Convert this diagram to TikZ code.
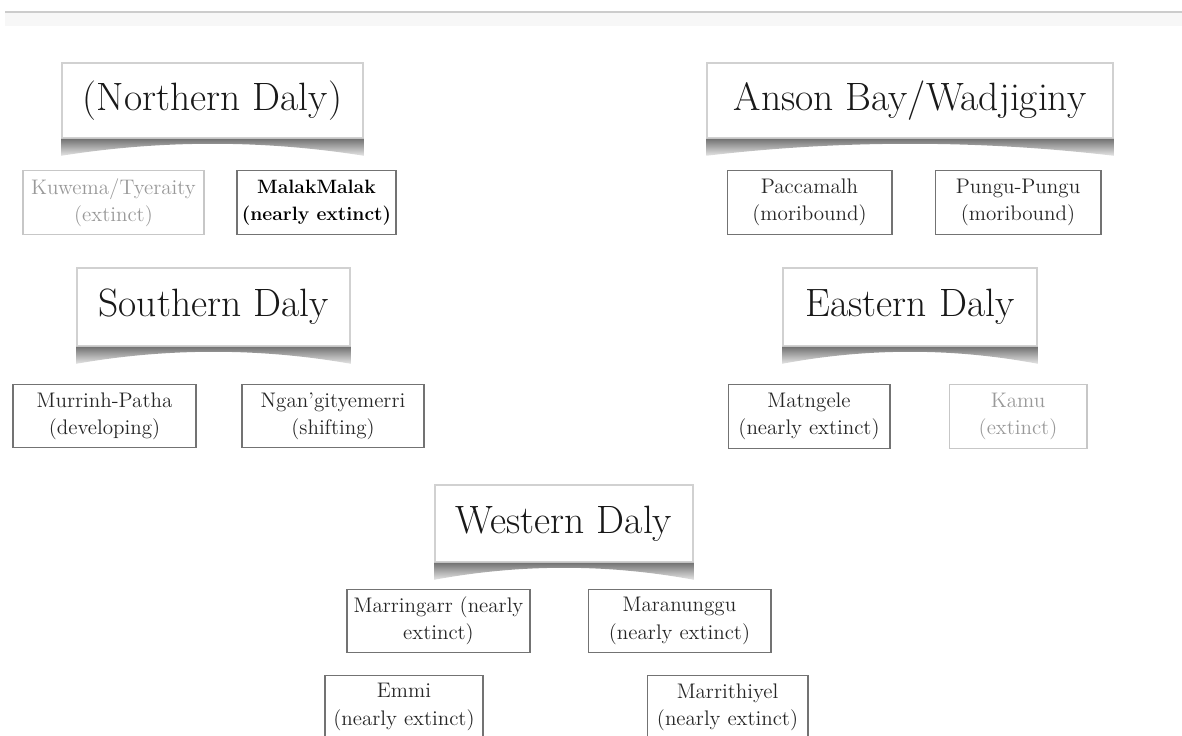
\documentclass[tikz,border=0pt]{standalone}
\usetikzlibrary{calc}

\begin{document}
\begin{tikzpicture}[x=0.02cm,y=-0.02cm,
  family/.style={draw=black!18,line width=0.9pt,fill=white,minimum height=1.5cm,inner xsep=0.3cm,text=black!90,font=\fontsize{22.5}{25}\selectfont},
  lang/.style={draw=black!55,line width=0.6pt,minimum height=1.27cm,inner xsep=2pt,align=center,text=black!85,font=\fontsize{12}{15.5}\selectfont},
  dead/.style={lang,draw=black!22,text=black!40},
  curl/.style={top color=black!55,bottom color=black!10}]

\useasboundingbox (0,0) rectangle (1182,736);
\clip (0,0) rectangle (1182,736);

% rule at the top
\fill[black!3] (5,12) rectangle (1182,26);
\draw[black!20,line width=0.8pt] (5,12) -- (1182,12);

% families
\node[family,minimum width=6.02cm](north) at (212.5,100.5){(Northern Daly)};
\node[family,minimum width=8.12cm](anson) at (910,100.5){Anson Bay/Wadjiginy};
\node[family,minimum width=5.46cm,minimum height=1.56cm](south) at (213.5,307){Southern Daly};
\node[family,minimum width=5.08cm,minimum height=1.56cm](east) at (910,307){Eastern Daly};
\node[family,minimum width=5.16cm,minimum height=1.54cm](west) at (564,523.5){Western Daly};

% curled shadow under each family box
\foreach \f in {north,anson,south,east,west}
  \shade[curl] (\f.south west) -- ++(0,17)
    .. controls ($(\f.south west)!0.333!(\f.south east)+(0,1)$)
    and ($(\f.south west)!0.667!(\f.south east)+(0,1)$) .. ($(\f.south east)+(0,17)$)
    -- (\f.south east) -- cycle;

% languages
\node[dead,minimum width=3.62cm](kuwema) at (113.5,202.5){Kuwema/Tyeraity\\(extinct)};
\node[lang,minimum width=3.18cm,font=\fontsize{11}{15.5}\selectfont\bfseries,text=black](malak) at (316.5,202.5){MalakMalak\\(nearly extinct)};
\node[lang,minimum width=3.3cm](pacca) at (809.5,202.5){Paccamalh\\(moribound)};
\node[lang,minimum width=3.32cm](pungu) at (1018,202.5){Pungu-Pungu\\(moribound)};

\node[lang,minimum width=3.66cm](murrinh) at (104.5,416){Murrinh-Patha\\(developing)};
\node[lang,minimum width=3.64cm](ngan) at (333,416){Ngan'gityemerri\\(shifting)};
\node[lang,minimum width=3.24cm](matngele) at (809,416.5){Matngele\\(nearly extinct)};
\node[dead,minimum width=2.76cm](kamu) at (1018,416.5){Kamu\\(extinct)};

\node[lang,minimum width=3.66cm](marringarr) at (438.5,621){Marringarr (nearly\\extinct)};
\node[lang,minimum width=3.66cm](maranunggu) at (679.5,621){Maranunggu\\(nearly extinct)};
\node[lang,minimum width=3.16cm](emmi) at (404,707){Emmi\\(nearly extinct)};
\node[lang,minimum width=3.22cm](marrithiyel) at (727.5,707){Marrithiyel\\(nearly extinct)};

\end{tikzpicture}
\end{document}
